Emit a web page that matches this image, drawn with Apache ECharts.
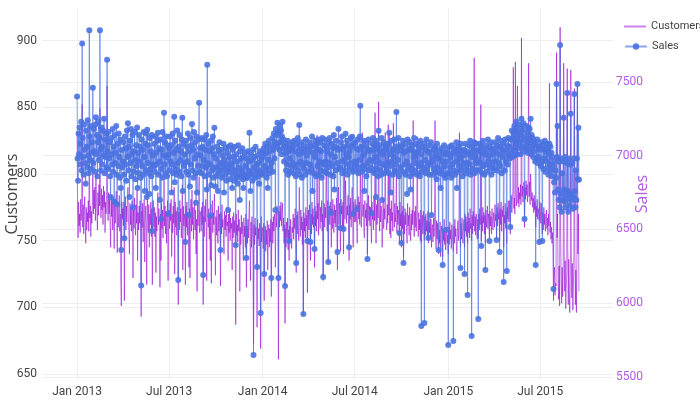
<!DOCTYPE html>
<html>
<head>
<meta charset="utf-8">
<script src="https://cdn.jsdelivr.net/npm/echarts@6/dist/echarts.min.js"></script>
<style>html,body{margin:0;padding:0;background:#fff}#chart{width:700px;height:400px}</style>
</head>
<body>
<div id="chart"></div>
<script>
// ---- data (daily, starting 2013-01-01) ----
const startDate = '2013-01-01';
const xTickDates = ['2013-01-01','2013-07-01','2014-01-01','2014-07-01','2015-01-01','2015-07-01'];
const xTickLabels = ['Jan 2013','Jul 2013','Jan 2014','Jul 2014','Jan 2015','Jul 2015'];
const customersTicks = [650,700,750,800,850,900];
const salesTicks = [5500,6000,6500,7000,7500];

const sales2013 = [
7400,6980,6830,7150,7010,7190,6940,7080,7230,6900,7760,7120,6990,6870,7210,7040,6950,6810,7170,7060,6920,7240,7000,6880,7850,7130,6970,7200,6910,7090,7020,
7460,6950,7180,7030,6890,7210,7260,7010,7140,6860,7090,7230,6970,7120,7850,7040,6900,7190,7060,6940,7170,7000,7250,6880,7110,6990,7150,6920,
7650,7030,6910,7160,6980,7090,6860,6720,7120,7010,6940,7180,6890,7060,6690,7140,6950,7020,7200,6870,6670,7080,6930,7150,6990,6850,7110,6780,6360,7040,6920,
6960,7090,6870,6440,7130,6940,7050,6830,7170,6990,7220,6900,7060,6720,7100,6950,7180,6860,7010,7140,6650,7030,6890,7160,6970,6840,7070,6930,7190,6780,
7020,6880,7140,6960,7060,6850,6120,7110,6930,7040,6870,7160,6990,6760,7080,6900,7150,6720,7175,6950,7070,6880,6740,7120,6910,7030,6860,7140,6490,7000,6940,
6930,7080,6890,7130,6780,7020,6940,7100,7155,6870,7050,6960,6700,7110,6570,7040,6910,7160,6850,7000,7290,6940,7090,6880,7130,6990,6860,7070,6605,7010,
7050,6900,7130,6960,7070,6750,6940,7150,6880,7020,7263,6820,7100,6910,7040,6870,7170,6950,6158,7060,6890,7140,6970,7030,6860,7110,7256,6760,7080,6930,7010,
6950,6415,7100,6890,7060,6960,7150,6870,6598,7030,6790,7120,6940,7070,7215,6900,7040,6850,7160,6980,7090,6880,6680,7130,6750,7010,6930,7110,7358,6890,7050,
7000,6880,7120,6930,7060,6192,6970,7110,6860,7040,6920,7140,6770,7615,6950,7080,6870,7030,6940,6592,7100,6800,7050,6900,7130,6850,7010,7188,6920,6790,
6980,6860,7060,6920,6760,7030,6880,7090,6950,6361,6900,7040,6850,7000,6930,7080,6750,6970,6870,7050,6910,6830,7020,6940,6632,7060,6890,6990,6840,7070,6920,
6950,6780,7040,6870,6990,6830,7060,6900,6395,7010,6850,6960,6810,7070,6920,6880,6700,7030,6860,6980,6900,7050,6840,6780,6990,6870,7020,6930,6850,6307,
6980,6850,7030,6900,6960,7155,6880,6760,7010,6870,6970,6830,7040,5649,6920,6990,6850,7060,6890,6940,6246,7000,6860,6950,6810,7030,6900,5934,6970,6880,7020
];
const sales2014 = [
6990,6870,7050,6198,6930,7080,6900,7020,6850,7060,6780,6970,7100,6880,7030,6920,7070,6171,6950,7120,6890,7040,7150,6980,7090,6632,7180,7060,7140,7222,7080,
6171,7160,7040,7200,7090,7170,7010,7130,7230,7050,7110,6960,7080,6117,7020,6900,7060,6940,7100,6870,7030,6422,6980,7070,6890,7040,6930,7090,
6950,7060,6880,7100,6920,7030,6860,6273,7080,6940,7120,6900,7010,7208,6870,7050,6960,7090,6850,7020,6930,5927,7070,6910,7040,6870,7110,6950,7000,6422,7060,
7030,6890,7090,6940,6415,7060,6910,7130,6760,7020,6880,7070,6368,6990,7100,6860,7040,7080,6930,7110,6870,7040,6960,7090,6900,7030,6850,7120,6950,6178,
6940,7070,6890,7110,6960,7060,6880,7030,6920,6280,7090,6950,7120,6870,7010,6612,7080,6930,7050,6860,7140,6770,6990,7060,6900,7100,6950,6347,7040,7181,6910,
7050,6920,6510,7090,6960,7130,6880,7040,6503,6970,7060,6900,7148,7010,6940,7100,6870,7070,6990,6380,7030,6910,7120,6950,7060,7127,6890,6605,7080,6930,
6960,7090,6900,7050,6940,6639,7110,6880,7040,6970,7130,7337,6920,7060,6890,7060,7000,6930,7100,6760,7020,6910,7080,6860,7050,6300,6950,7110,6900,7040,6970,
7030,6920,6612,7080,6900,7120,6960,7040,6880,7070,6990,6720,7100,6910,7050,6860,7168,6950,7070,6900,7030,6870,7120,6700,7010,6940,7090,6880,7040,7060,6930,
7050,6900,7080,6950,7070,6880,7155,7010,6930,6750,7100,6960,7040,6870,7040,6990,7110,6900,7060,6940,7296,6890,7030,6970,7120,6860,6476,7070,6920,7040,
6408,7060,6890,7100,6273,7020,6940,7080,6870,7030,6960,6740,7110,6900,7050,6930,7090,6860,6770,7040,6910,7070,6880,7030,6990,7120,6900,7010,6950,7080,6870,
7020,6880,7070,6930,7040,6860,7100,6950,5846,7010,6890,7060,6920,7080,5866,6970,7040,6880,7110,6910,7030,6950,6442,7070,6870,7020,6940,7090,6598,6960,
6990,6870,7040,6910,7060,7050,6890,7010,6840,7080,6920,6980,6361,7030,6880,6990,6780,7050,6900,6960,6259,7020,6870,7070,6930,6850,7010,6497,6960,7040,6880
];
const sales2015 = [
5717,7010,6880,7060,6920,6990,6850,7070,6940,7020,5744,6900,7050,6870,7030,6960,7090,6780,7010,6890,7060,6930,7040,6980,6239,7080,6900,7030,6860,7000,6950,
7040,6198,6920,7080,6880,7030,6950,6056,7010,6900,7070,6940,7100,6870,7020,5778,6990,7060,6910,7040,7090,6880,7000,6950,7080,6900,7030,6970,
5893,7040,6900,7080,6950,7060,6388,7020,6880,7100,6930,7050,6870,7010,6225,7070,6940,7030,6890,7110,6960,7000,6422,7060,6920,7090,6870,7040,6950,7010,6900,
7050,6920,7090,6960,7030,6429,7070,6900,7120,6950,7010,6347,7060,6930,7100,6880,7040,6990,7080,6144,7030,6900,7110,6960,7040,6218,7070,6940,7120,7000,
7060,6980,6517,7110,7020,7170,6990,7120,7150,7040,7200,7000,7180,7080,7230,7010,7120,7160,7050,7210,7090,7140,7010,7190,7250,7060,7170,7100,7220,7030,6571,
7130,7050,7200,7070,7160,7020,7110,7190,7040,7180,7090,7250,7010,7140,7060,7120,6990,7100,7030,7080,6960,6259,7070,6980,7110,6950,7060,6990,6415,7040,
7050,6930,7090,6960,6422,7070,6910,7040,6980,7100,6890,7030,6960,7080,6920,7050,6870,7010,7080,6940,7060,6900,7020,6860,6990,6930,6097,6820,6960,6750,6900,
6850,7486,6990,7200,6770,6700,6960,6650,7750,6980,6740,6620,6880,6700,6960,7256,6770,6690,6990,6650,6730,6950,7425,6760,6620,6980,6710,6660,6940,7283,6740,
6700,6950,6640,6720,6980,7418,6760,6650,6900,6700,6980,7486,6840,7188,6836
];

const customers2013 = [
832,772,752,779,761,770,756,781,765,774,852,760,777,755,769,783,762,748,775,758,771,764,780,757,838,767,776,753,772,763,779,
812,770,788,774,790,765,800,783,771,758,786,769,792,776,849,780,767,789,773,784,762,791,775,787,756,779,770,785,
866,777,765,786,770,781,762,745,784,768,779,758,783,771,744,780,763,775,787,766,741,778,760,773,784,757,770,722,701,779,766,
774,761,779,705,770,783,758,776,764,781,790,767,755,740,778,762,775,757,780,766,722,773,759,782,768,754,777,763,788,735,
771,758,776,763,780,754,693,772,760,778,749,769,781,734,765,776,757,717,789,768,756,777,745,770,762,779,753,774,717,767,780,
760,775,753,771,726,768,757,779,786,762,774,750,715,770,735,778,759,773,752,767,795,761,776,755,772,748,769,780,720,763,
773,759,778,765,781,738,770,756,776,763,790,725,779,760,772,754,775,767,702,771,758,780,764,774,752,769,792,728,776,761,770,
765,717,776,760,779,754,771,763,730,774,722,768,781,757,788,762,775,751,770,780,758,773,740,766,712,777,761,769,798,756,772,
770,757,775,762,779,702,768,753,776,764,781,758,720,805,772,760,774,751,769,735,777,718,765,780,756,771,762,785,767,724,
768,754,773,759,748,776,757,770,762,716,771,755,777,760,766,751,740,772,758,769,753,775,761,764,735,770,756,773,750,767,759,
763,728,768,752,771,756,765,748,687,770,754,762,749,773,757,766,712,760,747,769,755,764,750,735,767,753,761,745,770,715,
761,748,766,752,770,780,755,720,764,745,768,757,750,673,762,747,767,754,760,743,685,766,751,759,746,763,754,669,768,749,760
];
const customers2014 = [
757,744,763,705,750,761,742,758,747,765,728,754,762,745,759,749,766,708,753,764,748,768,757,770,763,730,772,760,776,775,768,
661,772,760,776,765,779,761,770,778,757,767,748,762,688,759,745,764,752,767,743,758,735,761,749,766,753,744,760,
756,770,751,767,759,774,748,726,769,755,772,760,750,790,766,753,773,758,768,747,764,694,771,757,767,752,775,761,769,711,758,
773,758,777,763,735,770,755,779,762,774,760,768,730,776,761,772,757,829,766,778,754,810,771,759,775,764,780,757,770,720,
764,778,760,775,767,823,772,757,780,733,769,776,762,779,766,745,774,759,781,768,756,777,763,773,760,782,768,728,775,790,762,
778,765,742,781,770,776,761,779,740,773,816,766,795,780,763,776,769,784,758,735,777,766,782,760,774,790,768,745,779,764,
770,781,764,777,760,748,775,783,766,779,762,805,774,760,782,831,768,777,759,752,780,767,773,761,778,740,770,784,765,776,761,
775,761,748,779,766,772,758,783,765,846,770,748,777,762,781,767,854,773,757,779,764,776,770,745,768,782,759,774,766,831,771,
772,758,777,763,837,769,800,755,774,752,780,765,771,757,838,775,760,778,764,770,805,756,776,762,773,766,748,779,761,770,
745,772,759,776,738,769,755,774,762,771,757,748,778,761,769,754,775,763,750,770,758,773,762,840,767,753,772,760,776,757,768,
828,767,753,771,758,766,750,773,748,761,769,755,772,759,750,768,754,770,757,765,751,772,748,764,756,769,752,766,745,760,
762,749,767,753,760,840,757,744,765,751,763,746,740,758,748,764,738,755,761,744,738,759,750,766,747,757,743,742,760,748,754
];
const customers2015 = [
740,760,747,764,751,758,744,762,755,749,742,761,748,766,753,759,746,740,757,765,750,760,831,756,745,763,751,767,754,748,761,
766,745,770,757,768,753,764,748,771,756,767,752,774,759,763,750,769,755,772,761,887,757,768,754,770,762,751,766,
752,770,758,774,762,852,750,768,757,775,763,771,755,769,748,773,760,767,776,759,770,765,752,772,761,768,755,774,763,758,771,
772,760,777,765,770,752,775,761,778,766,771,750,774,762,779,757,773,768,776,745,769,763,778,759,772,748,775,766,780,764,
768,780,755,776,784,771,779,787,880,774,782,770,884,785,776,789,866,778,790,775,786,781,792,777,902,783,791,779,788,794,760,
790,781,795,784,792,779,788,883,783,794,777,800,789,780,786,775,782,771,784,773,779,760,776,768,781,766,774,770,765,779,
774,763,778,760,755,771,758,775,762,770,757,768,773,759,767,754,770,761,868,756,764,751,760,748,756,745,705,721,730,709,718,
716,891,752,770,718,706,731,701,910,758,722,703,730,708,726,883,745,712,735,699,714,728,879,748,702,736,711,696,725,878,740,
707,733,698,712,738,864,746,702,728,696,735,865,740,770,712
];

// ---- build ----
const DAY = 86400000;
const t0 = Date.parse(startDate + 'T00:00:00Z');
const toPairs = vals => vals.map((v, i) => [t0 + i * DAY, v]);
const customers = customers2013.concat(customers2014, customers2015);
const sales = sales2013.concat(sales2014, sales2015);
const tickTimes = xTickDates.map(d => Date.parse(d + 'T00:00:00Z'));

const NARROW = "'Liberation Sans Narrow', Roboto, 'Open Sans', sans-serif";
const legendText = {color: '#444', fontSize: 11, fontFamily: NARROW};
const chart = echarts.init(document.getElementById('chart'), null, {renderer: 'canvas'});
chart.setOption({
  animation: false,
  textStyle: {fontFamily: NARROW},
  grid: {left: 42, right: 87, top: 8, bottom: 20, containLabel: false, outerBoundsMode: 'none'},
  legend: [
    {
      data: ['Customers'], orient: 'vertical', left: 619, top: 16,
      icon: 'rect', itemWidth: 22, itemHeight: 2, itemGap: 0, itemTextGap: 4,
      itemStyle: {color: '#c984ea', opacity: 1},
      textStyle: legendText
    },
    {
      data: ['Sales'], orient: 'vertical', left: 619, top: 36,
      itemWidth: 22, itemHeight: 8, itemTextGap: 4,
      textStyle: legendText
    }
  ],
  xAxis: {
    type: 'value',
    min: Date.parse('2012-10-24T00:00:00Z'),
    max: Date.parse('2015-11-21T00:00:00Z'),
    axisLine: {show: false},
    axisTick: {show: false, customValues: tickTimes},
    axisLabel: {
      customValues: tickTimes, color: '#444', fontSize: 12, margin: 6, fontFamily: NARROW,
      formatter: v => {
        const k = tickTimes.findIndex(t => Math.abs(t - v) < DAY);
        return k >= 0 ? xTickLabels[k] : '';
      }
    },
    splitLine: {show: true, lineStyle: {color: '#eee', width: 1}}
  },
  yAxis: [
    {
      type: 'value', position: 'left', min: 645.5, max: 924.4,
      axisLine: {show: false},
      axisTick: {show: false, customValues: customersTicks},
      axisLabel: {customValues: customersTicks, color: '#444', fontSize: 12, margin: 5, fontFamily: NARROW, formatter: v => String(v)},
      splitLine: {show: true, lineStyle: {color: '#eee', width: 1}},
      name: 'Customers', nameLocation: 'middle', nameGap: 22, nameMoveOverlap: false,
      nameTextStyle: {color: '#444', fontSize: 16, fontFamily: 'Open Sans'}
    },
    {
      type: 'value', position: 'right', min: 5480, max: 8000,
      axisLine: {show: false},
      axisTick: {show: false, customValues: salesTicks},
      axisLabel: {customValues: salesTicks, color: '#b05ae6', fontSize: 12, margin: 3, fontFamily: NARROW, formatter: v => String(v)},
      splitLine: {show: true, lineStyle: {color: '#eee', width: 1}},
      name: 'Sales', nameLocation: 'middle', nameGap: 21, nameMoveOverlap: false,
      nameTextStyle: {color: '#b05ae6', fontSize: 16, fontFamily: 'Open Sans'}
    }
  ],
  series: [
    {
      name: 'Customers', type: 'line', yAxisIndex: 0, data: toPairs(customers),
      symbol: 'none', showSymbol: false,
      lineStyle: {color: '#9400d3', width: 1, opacity: 0.55},
      itemStyle: {color: '#9400d3', opacity: 0.55},
      emphasis: {disabled: true}, z: 2
    },
    {
      name: 'Sales', type: 'line', yAxisIndex: 1, data: toPairs(sales),
      symbol: 'circle', symbolSize: 6, showSymbol: true, showAllSymbol: true,
      lineStyle: {color: '#4169e1', width: 1, opacity: 0.6},
      itemStyle: {color: '#4a72e0', opacity: 0.9},
      emphasis: {disabled: true}, z: 3
    }
  ]
});
</script>
</body>
</html>
